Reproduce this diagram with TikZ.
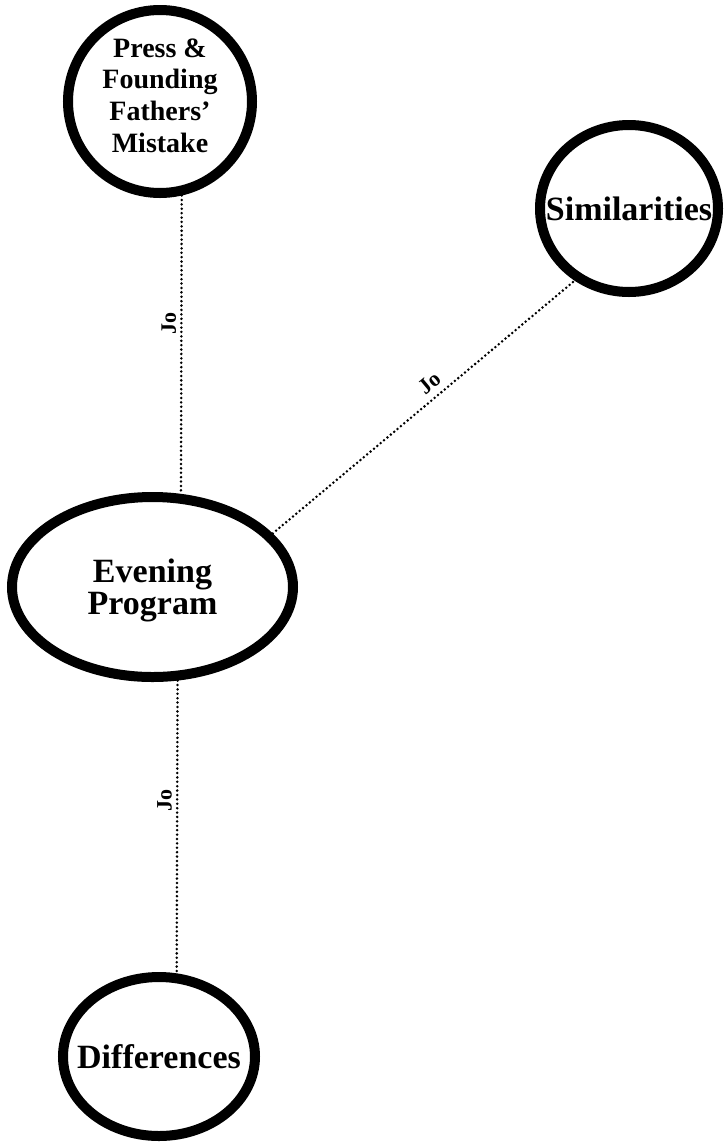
\documentclass[tikz,border=0pt]{standalone}
\usepackage{fontspec}
\setmainfont{Liberation Serif}
\usetikzlibrary{shapes.geometric}

\tikzset{
  topic/.style={draw=black, line width=10pt, ellipse, inner sep=0pt, fill=white},
  topictext/.style={font=\fontsize{34}{32}\selectfont\bfseries, align=center, inner sep=0pt},
  smalltext/.style={font=\fontsize{28}{31.7}\selectfont\bfseries, align=center, inner sep=0pt},
  link/.style={line width=2.8pt, line cap=round, dash pattern=on 0pt off 4.4pt},
  linklabel/.style={font=\fontsize{22}{22}\selectfont\bfseries, inner sep=6pt}
}

\begin{document}
\begin{tikzpicture}[x=1pt, y=1pt]
  \useasboundingbox (0,0) rectangle (725,-1144);

  % topic ellipses
  \node[topic, minimum width=184pt, minimum height=183pt,
        label={[smalltext, name=presstext, yshift=6pt]center:Press \&\\Founding\\Fathers'\\Mistake}]
        (press) at (160,-101.5) {};
  \node[topic, minimum width=178pt, minimum height=167pt,
        label={[topictext, name=simtext]center:Similarities}]
        (sim) at (629,-208.5) {};
  \node[topic, minimum width=281pt, minimum height=180pt,
        label={[topictext, name=eventext, yshift=-3pt]center:Evening\\Program}]
        (evening) at (152.5,-587) {};
  \node[topic, minimum width=192pt, minimum height=159pt,
        label={[topictext, name=difftext]center:Differences}]
        (diff) at (159,-1056.5) {};

  % dotted connectors with their labels
  \draw[link] (press.-77) -- (evening.73)
    node[linklabel, pos=0.43, rotate=90, anchor=south, inner sep=4pt] (l1) {Jo};
  \draw[link] (evening.24) -- (sim.-127)
    node[linklabel, pos=0.55, sloped, above] (l2) {Jo};
  \draw[link] (evening.-75) -- (diff.78)
    node[linklabel, pos=0.41, rotate=90, anchor=south, inner sep=4pt] (l3) {Jo};
\end{tikzpicture}
\end{document}
